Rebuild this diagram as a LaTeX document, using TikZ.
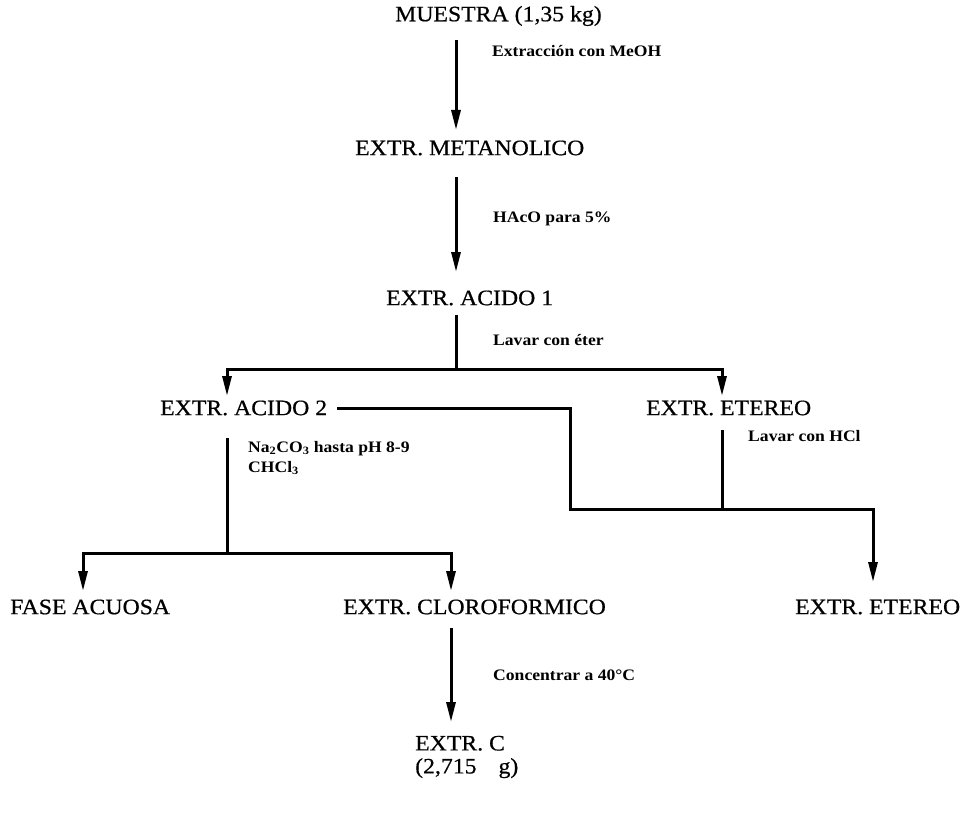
\documentclass[tikz,border=0pt]{standalone}
\usepackage{fontspec}
\setmainfont{Liberation Serif}
\newfontfamily\mainfam[FakeStretch=1.08,FakeBold=0.6]{Liberation Serif}
\newfontfamily\labfam[FakeStretch=1.1]{Liberation Serif}
\usetikzlibrary{arrows.meta}
\tikzset{
  main/.style={font=\mainfam\fontsize{22}{23}\selectfont, inner sep=0pt, anchor=west},
  lab/.style={font=\labfam\fontsize{16}{20}\selectfont\bfseries, anchor=west, inner sep=0pt, align=left},
  ln/.style={line width=3pt},
  arr/.style={ln, -{Triangle[length=20pt,width=9pt]}}
}
\begin{document}
\begin{tikzpicture}[x=1pt,y=-1pt]
\useasboundingbox (0,0) rectangle (963,813);
% nodes
\node[main] (muestra) at (395,16) {MUESTRA (1,35 kg)};
\node[main] (metan) at (355,148) {EXTR. METANOLICO};
\node[main] (acido1) at (386,298) {EXTR. ACIDO 1};
\node[main] (acido2) at (160,408) {EXTR. ACIDO 2};
\node[main] (etereo1) at (646,408) {EXTR. ETEREO};
\node[main] (fase) at (10,607) {FASE ACUOSA};
\node[main] (cloro) at (343,607) {EXTR. CLOROFORMICO};
\node[main] (etereo2) at (795,607) {EXTR. ETEREO};
\node[main, align=left] (extrc) at (415,757) {EXTR. C\\(2,715\quad g)};
% labels
\node[lab] (l1) at (492,51) {Extracción con MeOH};
\node[lab] (l2) at (493,219) {HAcO para 5\%};
\node[lab] (l3) at (493,340) {Lavar con éter};
\node[lab] (l4) at (748,436) {Lavar con HCl};
\node[lab] (l5) at (248,458) {Na\textsubscript{2}CO\textsubscript{3} hasta pH 8-9\\CHCl\textsubscript{3}};
\node[lab] (l6) at (493,675) {Concentrar a 40°C};
% coordinates
\coordinate (sp) at (456,0);
\coordinate (sq) at (451,0);
\coordinate (j1) at (456,369);
\coordinate (a2in) at (227,396);
\coordinate (e1in) at (722,396);
\coordinate (k1) at (570,509);
\coordinate (k2) at (873,582);
\coordinate (j2) at (227,553);
\coordinate (fin) at (83,591);
\coordinate (cin) at (451,591);
% connectors
\draw[arr] ([yshift=-24pt]muestra.west -| sp) -- ([yshift=18pt]metan.west -| sp);
\draw[arr] ([yshift=-29pt]metan.west -| sp) -- ([yshift=26pt]acido1.west -| sp);
\draw[ln] ([yshift=-17pt]acido1.west -| sp) -- (j1);
\draw[arr] (j1) -| (a2in);
\draw[arr] (j1) -| (e1in);
\draw[arr] ([xshift=10pt]acido2.east) -| (k1) -| (k2);
\draw[ln] ([yshift=-22pt]etereo1.west -| e1in) -- (e1in |- k1);
\draw[ln] ([yshift=-30pt]acido2.west -| a2in) -- (j2);
\draw[arr] (j2) -| (fin);
\draw[arr] (j2) -| (cin);
\draw[arr] ([yshift=-21pt]cloro.west -| sq) -- ([yshift=35pt]extrc.west -| sq);
\end{tikzpicture}
\end{document}
